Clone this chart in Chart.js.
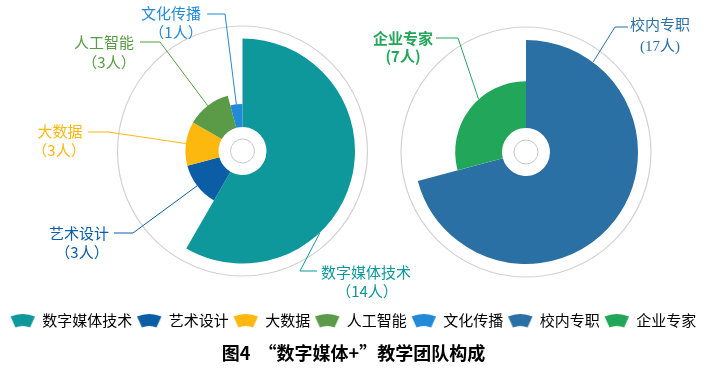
<!DOCTYPE html>
<html>
<head>
<meta charset="utf-8">
<script src="https://cdn.jsdelivr.net/npm/chart.js@4/dist/chart.umd.min.js"></script>
<style>
  html, body { margin: 0; padding: 0; background: #fff; }
  #wrap { width: 707px; height: 375px; }
</style>
</head>
<body>
<div id="wrap"><canvas id="teamChart" width="707" height="375"></canvas></div>
<script>
// 专业方向
const majorLabels = ['数字媒体技术', '艺术设计', '大数据', '人工智能', '文化传播'];
const majorCounts = [14, 3, 3, 3, 1];
// 人员来源
const staffLabels = ['校内专职', '企业专家'];
const staffCounts = [17, 7];

const majorColors = ['#0f989c', '#0b5ea6', '#fdb80f', '#5b9a46', '#238ad8'];
const staffColors = ['#2b70a4', '#22a65a'];

const allLabels = majorLabels.concat(staffLabels);
const allColors = majorColors.concat(staffColors);

const CJK = "'Noto Sans CJK SC', 'Microsoft YaHei', sans-serif";
const HOLE = 24;   // white hole radius
const BASE = 42;   // radius a value of 0 would reach
const rings = [
  { cx: 242.5, cy: 151, maxR: 112.5 },
  { cx: 526, cy: 152, maxR: 112 }
];

// leader lines + label spots
const callouts = {
  '数字媒体技术': { frac: 0.65, elbow: [300, 271], end: [317, 271], at: [366, 272], gap: 19, dx: 1 },
  '艺术设计': { frac: 0.5, elbow: [133, 233], end: [114, 233], at: [79, 233], gap: 19, dx: 3 },
  '大数据': { frac: 0.5, elbow: [108, 132], end: [88, 132], at: [60, 131], gap: 19, dx: -1 },
  '人工智能': { frac: 0.5, elbow: [160, 42], end: [140, 42], at: [104, 42], gap: 20, dx: 5 },
  '文化传播': { frac: 0.5, elbow: [225, 14], end: [207, 14], at: [171, 13], gap: 19, dx: 5 },
  '校内专职': { frac: 0.144, elbow: [615, 27], end: [628, 27], at: [660, 26], gap: 21, dx: 0, serif: true },
  '企业专家': { frac: 0.6, elbow: [458, 38], end: [436, 38], at: [403, 38], gap: 18, dx: 0, bold: true }
};

function fanIcon(color) {
  const c = document.createElement('canvas');
  c.width = 26; c.height = 16;
  const g = c.getContext('2d');
  g.fillStyle = color;
  g.beginPath();
  g.arc(13, 32, 30, -Math.PI / 2 - 0.42, -Math.PI / 2 + 0.42);
  g.arc(13, 32, 18, -Math.PI / 2 + 0.42, -Math.PI / 2 - 0.42, true);
  g.closePath();
  g.fill();
  return c;
}

// rose layout: angle from the doughnut, radius grows with the value
const roseLayout = {
  id: 'roseLayout',
  afterDatasetUpdate(chart, args) {
    const ring = rings[args.index];
    const values = chart.data.datasets[args.index].data;
    const max = Math.max(...values);
    args.meta.data.forEach((arc, i) => {
      arc.x = ring.cx;
      arc.y = ring.cy;
      arc.innerRadius = HOLE;
      arc.outerRadius = BASE + (ring.maxR - BASE) * values[i] / max;
    });
  }
};

const ringsDeco = {
  id: 'ringsDeco',
  beforeDatasetsDraw(chart) {
    const ctx = chart.ctx;
    ctx.save();
    rings.forEach(r => {
      ctx.strokeStyle = '#d2d2d2';
      ctx.lineWidth = 1.2;
      ctx.beginPath();
      ctx.arc(r.cx, r.cy, 125, 0, Math.PI * 2);
      ctx.stroke();
      ctx.strokeStyle = '#c8c8c8';
      ctx.lineWidth = 1;
      ctx.beginPath();
      ctx.arc(r.cx, r.cy, 12, 0, Math.PI * 2);
      ctx.stroke();
    });
    ctx.restore();
  }
};

const calloutPlugin = {
  id: 'callouts',
  afterDatasetsDraw(chart) {
    const ctx = chart.ctx;
    ctx.save();
    chart.data.datasets.forEach((ds, di) => {
      const meta = chart.getDatasetMeta(di);
      meta.data.forEach((arc, i) => {
        const v = ds.data[i];
        if (!v) return;
        const name = allLabels[i];
        const c = callouts[name];
        const color = allColors[i];
        const a = arc.startAngle + c.frac * (arc.endAngle - arc.startAngle);
        const ax = arc.x + arc.outerRadius * Math.cos(a);
        const ay = arc.y + arc.outerRadius * Math.sin(a);
        ctx.strokeStyle = color;
        ctx.lineWidth = 1;
        ctx.beginPath();
        ctx.moveTo(ax, ay);
        ctx.lineTo(c.elbow[0], c.elbow[1]);
        ctx.lineTo(c.end[0], c.end[1]);
        ctx.stroke();

        ctx.fillStyle = color;
        ctx.textAlign = 'center';
        ctx.textBaseline = 'middle';
        let fam = CJK, weight = 'normal', count = '（' + v + '人）';
        if (c.serif) { fam = "'Liberation Serif', " + CJK; count = '(' + v + '人)'; }
        if (c.bold) { weight = 'bold'; count = '(' + v + '人)'; }
        ctx.font = weight + ' 15px ' + fam;
        ctx.fillText(name, c.at[0], c.at[1]);
        ctx.fillText(count, c.at[0] + c.dx, c.at[1] + c.gap);
      });
    });
    ctx.restore();
  }
};

new Chart(document.getElementById('teamChart'), {
  type: 'doughnut',
  data: {
    labels: allLabels,
    datasets: [
      {
        data: majorCounts.concat(staffCounts.map(() => 0)),
        backgroundColor: allColors
      },
      {
        data: majorCounts.map(() => 0).concat(staffCounts),
        backgroundColor: allColors
      }
    ]
  },
  options: {
    responsive: false,
    animation: false,
    events: [],
    borderWidth: 0,
    spacing: 0,
    layout: { padding: { bottom: 7 } },
    plugins: {
      tooltip: { enabled: false },
      legend: {
        position: 'bottom',
        onClick: () => {},
        labels: {
          usePointStyle: true,
          pointStyleWidth: 24,
          boxHeight: 14,
          padding: 5,
          color: '#333',
          font: { size: 15, family: CJK },
          generateLabels: () => allLabels.map((t, i) => ({
            text: t,
            fillStyle: allColors[i],
            strokeStyle: allColors[i],
            lineWidth: 0,
            pointStyle: fanIcon(allColors[i]),
            hidden: false,
            index: i,
            datasetIndex: 0
          }))
        }
      },
      title: {
        display: true,
        position: 'bottom',
        text: '图4  “数字媒体+”教学团队构成',
        color: '#000',
        font: { size: 18, weight: 'bold', family: CJK },
        padding: { top: 5, bottom: 4 }
      }
    }
  },
  plugins: [roseLayout, ringsDeco, calloutPlugin]
});
</script>
</body>
</html>
